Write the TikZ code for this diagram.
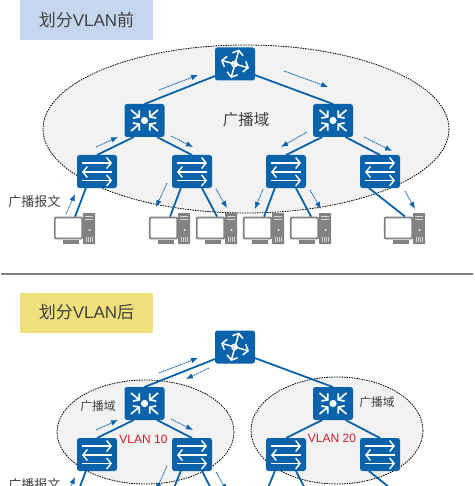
\documentclass[tikz,border=0pt]{standalone}
\usepackage{fontspec}
\setmainfont{Liberation Sans}
\newfontfamily\cjk{Noto Sans CJK SC}
\usetikzlibrary{arrows.meta}
\definecolor{devblue}{RGB}{10, 98, 170}
\definecolor{domfill}{RGB}{242, 242, 242}
\definecolor{pcgray}{RGB}{130, 130, 130}
\definecolor{titleblue}{RGB}{197, 214, 238}
\definecolor{titleyellow}{RGB}{240, 224, 124}
\definecolor{textgray}{RGB}{64, 64, 64}
\definecolor{vlanred}{RGB}{200, 32, 42}
\tikzset{
    devbox/.style={fill=devblue, rounded corners=2.5pt, minimum width=40pt,
        minimum height=33pt, inner sep=0pt, outer sep=0pt},
    pcbox/.style={draw=pcgray, fill=white, line width=1.8pt, rounded corners=1pt,
        minimum width=27.5pt, minimum height=21pt, inner sep=0pt, outer sep=0.9pt},
    bcdomain/.style={draw=black, fill=domfill, line width=0.8pt,
        dash pattern=on 1.5pt off 1pt},
    titlebox/.style={minimum width=133pt, minimum height=40pt, inner sep=0pt,
        font=\fontsize{17}{19}\selectfont, text=textgray},
    labeltext/.style={font=\fontsize{#1}{#1}\selectfont\cjk, text=textgray, inner sep=0pt},
    vlantext/.style={font=\fontsize{12}{13}\selectfont, text=vlanred, inner sep=0pt},
    link/.style={draw=devblue, line width=1.8pt},
    flow/.style={draw=devblue, line width=0.8pt, dash pattern=on 1.5pt off 0.7pt,
        -{Latex[length=7pt, width=5.5pt]}},
    icon/.style={draw=white, line width=1.4pt},
    pics/swicon/.style={code={
        \draw[icon, -{Straight Barb[length=4.5pt, width=11pt]}] (-15,-8.5) -- (15,-8.5);
        \draw[icon, -{Straight Barb[length=4.5pt, width=11pt]}] (15,0.5) -- (-15,0.5);
        \draw[icon, -{Straight Barb[length=4.5pt, width=11pt]}] (-15,9) -- (15,9);
    }},
    pics/coreicon/.style={code={
        \fill[white] (0,0) circle (3.6);
        \foreach \sx/\sy in {-1/-1, 1/-1, -1/1, 1/1} {
            \draw[icon, line width=1.7pt, -{Straight Barb[length=4pt, width=10pt]}]
                (13.5*\sx,10.5*\sy) -- (4.5*\sx,3*\sy);
        }
    }},
    pics/routericon/.style={code={
        \draw[icon, line width=1.5pt] (-0.5,0) circle (2.6);
        \foreach \tx/\ty in {4/-14.5, -4/14, -14/-3.7, 14/4} {
            \draw[icon, line width=1.5pt, -{Straight Barb[length=4pt, width=11pt]}]
                (0,0) -- (\tx,\ty);
        }
    }},
    pics/pcicon/.style={code={
        \fill[pcgray, rounded corners=0.5pt] (14.5,-15) rectangle (26.5,16);
        \fill[pcgray!35] (16.5,-12) rectangle (24.5,-11.2);
        \fill[pcgray!35] (16.5,-9) rectangle (24.5,-8.2);
        \fill[white] (21,2) circle (1);
        \foreach \bx in {17,19,21,23} {
            \fill[pcgray!35] (\bx,9) rectangle +(0.9,5);
        }
        \fill[pcgray] (-6,12) rectangle (10,16);
    }}
}

\begin{document}
\begin{tikzpicture}[x=1pt, y=-1pt]
    \useasboundingbox (0,0) rectangle (474,486);
    \clip (0,0) rectangle (474,486);

    % upper half
    \node[titlebox, fill=titleblue] (title1) at (86.5,20)
        {{\cjk 划分}VLAN{\cjk 前}};
    \draw[bcdomain] (246,129) ellipse (203 and 84);

    % lower half
    \draw[draw=pcgray, line width=1.6pt] (1,274) -- (473,274);
    \node[titlebox, fill=titleyellow] (title2) at (86.5,312.5)
        {{\cjk 划分}VLAN{\cjk 后}};
    \draw[bcdomain] (145.5,432) ellipse (88.5 and 52);
    \draw[bcdomain] (337,430.5) ellipse (86 and 53.5);

    % devices
    \foreach \grp/\dy in {a/0, b/283} {
        \node[devbox] (root\grp) at (235,64+\dy) {};
        \node[devbox] (corel\grp) at (144.5,120.5+\dy) {};
        \node[devbox] (corer\grp) at (333,120.5+\dy) {};
        \node[devbox] (acc1\grp) at (97,171.5+\dy) {};
        \node[devbox] (acc2\grp) at (192,171.5+\dy) {};
        \node[devbox] (acc3\grp) at (286,171.5+\dy) {};
        \node[devbox] (acc4\grp) at (380,171.5+\dy) {};
        \pic at (root\grp) {routericon};
        \pic at (corel\grp) {coreicon};
        \pic at (corer\grp) {coreicon};
        \foreach \n in {1,2,3,4} {
            \pic at (acc\n\grp) {swicon};
        }
        \draw[link] (root\grp.211) -- (corel\grp.north);
        \draw[link] (root\grp.331) -- (corer\grp.north);
        \draw[link] (corel\grp.237) -- (acc1\grp.north);
        \draw[link] (corel\grp.307) -- (acc2\grp.north);
        \draw[link] (corer\grp.237) -- (acc3\grp.north);
        \draw[link] (corer\grp.307) -- (acc4\grp.north);
    }

    % hosts of the upper half
    \foreach \n/\hx in {1/68.5, 2/163.5, 3/210.5, 4/257.5, 5/304.5, 6/398.5} {
        \pic at (\hx,228) {pcicon};
        \node[pcbox] (pc\n) at (\hx,228) {};
    }
    \draw[link] (acc1a.236) -- (pc1.60);
    \draw[link] (acc2a.236) -- (pc2.60);
    \draw[link] (acc2a.301) -- (pc3.60);
    \draw[link] (acc3a.236) -- (pc4.60);
    \draw[link] (acc3a.301) -- (pc5.60);
    \draw[link] (acc4a.236) -- (pc6.60);

    % lines running off the lower edge
    \coordinate (end1) at (75,500);
    \coordinate (end2) at (169,500);
    \coordinate (end3) at (217,500);
    \coordinate (end4) at (263,500);
    \coordinate (end5) at (311,500);
    \coordinate (end6) at (405,500);
    \draw[link] (acc1b.236) -- (end1);
    \draw[link] (acc2b.236) -- (end2);
    \draw[link] (acc2b.301) -- (end3);
    \draw[link] (acc3b.236) -- (end4);
    \draw[link] (acc3b.301) -- (end5);
    \draw[link] (acc4b.236) -- (end6);

    % broadcast flows
    \foreach \n/\xa/\ya/\xb/\yb in {
        1/159/90/198/75, 2/284/71/328/87, 3/96/147/118/137, 4/171/136/193/147,
        5/307/132/281/147, 6/364/137/392/151, 7/66/214/75/194, 8/167/183/156/207,
        9/216/189/227/208, 10/263/189/255/209, 11/310/190/321/209, 12/405/191/415/209,
        13/159/373/198/358, 14/209/368/186/379, 15/96/430/118/420, 16/171/419/193/430,
        17/66/497/75/477, 18/167/466/156/490, 19/216/472/227/491} {
        \coordinate (fa\n) at (\xa,\ya);
        \coordinate (fb\n) at (\xb,\yb);
        \draw[flow] (fa\n) -- (fb\n);
    }

    % labels
    \node[labeltext=15.5] (dom1) at (246,120) {广播域};
    \node[labeltext=11.7] (dom2) at (98,406) {广播域};
    \node[labeltext=11.7] (dom3) at (377,402) {广播域};
    \node[labeltext=13] (msg1) at (34.5,202) {广播报文};
    \node[labeltext=13] (msg2) at (34.5,485) {广播报文};
    \node[vlantext] (vlan10) at (143.5,439) {VLAN 10};
    \node[vlantext] (vlan20) at (332,438) {VLAN 20};
\end{tikzpicture}
\end{document}
